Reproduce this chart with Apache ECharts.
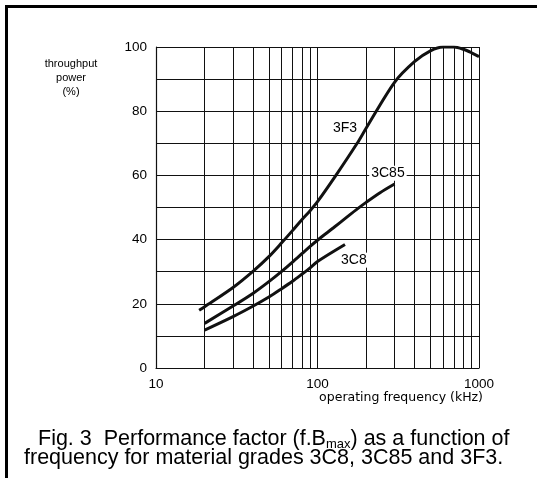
<!DOCTYPE html>
<html><head><meta charset="utf-8">
<script src="https://cdn.jsdelivr.net/npm/echarts@6/dist/echarts.min.js"></script>
<style>html,body{margin:0;padding:0;background:#fff}#c{width:537px;height:478px}</style>
</head><body><div id="c"></div>
<script>
// Data (frequency in kHz, throughput power in %)
const freq3F3 = [18.5, 20, 30, 40, 50, 60, 70, 80, 90, 100, 130, 176, 200, 300, 400, 500, 600, 700, 800, 900, 1000];
const power3F3 = [18, 19.1, 25.1, 30.2, 34.7, 39, 42.8, 46.2, 49, 51.8, 60, 70, 74.7, 89, 95.5, 98.8, 100, 100, 99.3, 98.2, 97];
const freq3C85 = [20, 30, 40, 50, 60, 70, 80, 90, 104, 125, 152, 179, 200, 244, 300];
const power3C85 = [13.9, 19.3, 23.3, 26.9, 30.1, 33, 35.6, 37.9, 40.5, 43.6, 47, 49.8, 51.6, 54.6, 57.3];
const freq3C8 = [20, 30, 40, 50, 60, 70, 80, 90, 100, 148];
const power3C8 = [11.8, 16, 19.3, 22.1, 24.7, 27, 29.2, 31.2, 33.2, 38.5];
const seriesNames = ['3F3', '3C85', '3C8'];
const xTickLabels = [10, 100, 1000];
const yTickLabels = [0, 20, 40, 60, 80, 100];
const minorGridFreqs = [20, 30, 40, 50, 60, 70, 80, 90, 200, 300, 400, 500, 600, 700, 800, 900];

const zip = (xs, ys) => xs.map((x, i) => [x, ys[i]]);
const chart = echarts.init(document.getElementById('c'), null, {renderer: 'canvas'});
const ink = '#111';
const sans = 'Liberation Sans, Arial, sans-serif';
function mk(coord, text) {
  return {symbol: 'circle', symbolSize: 0, silent: true,
    data: [{coord: coord, value: text}],
    label: {show: true, position: 'inside', formatter: text, color: '#000', fontSize: 14,
      fontFamily: sans, backgroundColor: '#fff', padding: [1, 2, 0, 2]}};
}
const lineStyle = {color: ink, width: 3};
const curve = (i, xs, ys, coord) => ({
  name: seriesNames[i], type: 'line', smooth: 0.3, showSymbol: false,
  lineStyle: lineStyle, data: zip(xs, ys), markPoint: mk(coord, seriesNames[i]), z: 5
});
chart.setOption({
  animation: false,
  backgroundColor: '#fff',
  grid: {left: 156, top: 47, right: 58, bottom: 110, containLabel: false},
  xAxis: {
    type: 'log', logBase: 10, min: 10, max: 1000,
    axisLine: {show: true, lineStyle: {color: ink, width: 1.2}},
    axisTick: {show: false},
    axisLabel: {margin: 9, color: '#000', fontSize: 13.5, fontFamily: sans,
      formatter: v => xTickLabels.includes(Math.round(v)) ? String(Math.round(v)) : ''},
    splitLine: {show: true, lineStyle: {color: ink, width: 1}}
  },
  yAxis: {
    type: 'value', min: 0, max: 100, interval: 10,
    axisLine: {show: true, lineStyle: {color: ink, width: 1.2}},
    axisTick: {show: false},
    axisLabel: {margin: 9, color: '#000', fontSize: 13.5, fontFamily: sans,
      formatter: v => yTickLabels.includes(v) ? String(v) : ''},
    splitLine: {show: true, lineStyle: {color: ink, width: 1}}
  },
  series: [
    {name: 'grid', type: 'line', data: [], silent: true,
      markLine: {silent: true, symbol: ['none', 'none'], label: {show: false},
        lineStyle: {color: ink, width: 1, type: 'solid'},
        data: minorGridFreqs.map(f => ({xAxis: f}))}},
    curve(0, freq3F3, power3F3, [148, 74.8]),
    curve(1, freq3C85, power3C85, [273, 60.7]),
    curve(2, freq3C8, power3C8, [168, 33.6])
  ],
  graphic: [
    {type: 'line', shape: {x1: 5, y1: 6.5, x2: 537, y2: 6.5}, style: {stroke: '#000', lineWidth: 3}},
    {type: 'line', shape: {x1: 6.5, y1: 5, x2: 6.5, y2: 478}, style: {stroke: '#000', lineWidth: 3}},
    {type: 'text', x: 71, y: 57,
      style: {text: 'throughput\npower\n(%)', align: 'center', textAlign: 'center', fill: '#000', fontSize: 11,
        lineHeight: 14, fontFamily: sans}},
    {type: 'text', right: 54, top: 391,
      style: {text: 'operating frequency (kHz)', fill: '#000', fontSize: 12.5,
        fontFamily: 'DejaVu Sans, sans-serif'}},
    {type: 'text', left: 38, top: 428,
      style: {text: '{a|Fig. 3  Performance factor (f.B}{s|max}{a|) as a function of}',
        rich: {a: {fontSize: 21.5, fill: '#000', fontFamily: sans, lineHeight: 20},
               s: {fontSize: 13, fill: '#000', fontFamily: sans, lineHeight: 20, padding: [10, 0, 0, 0]}}}},
    {type: 'text', left: 24, top: 447,
      style: {text: 'frequency for material grades 3C8, 3C85 and 3F3.', fill: '#000', fontSize: 21.5,
        fontFamily: sans, lineHeight: 20}}
  ]
});
</script></body></html>
